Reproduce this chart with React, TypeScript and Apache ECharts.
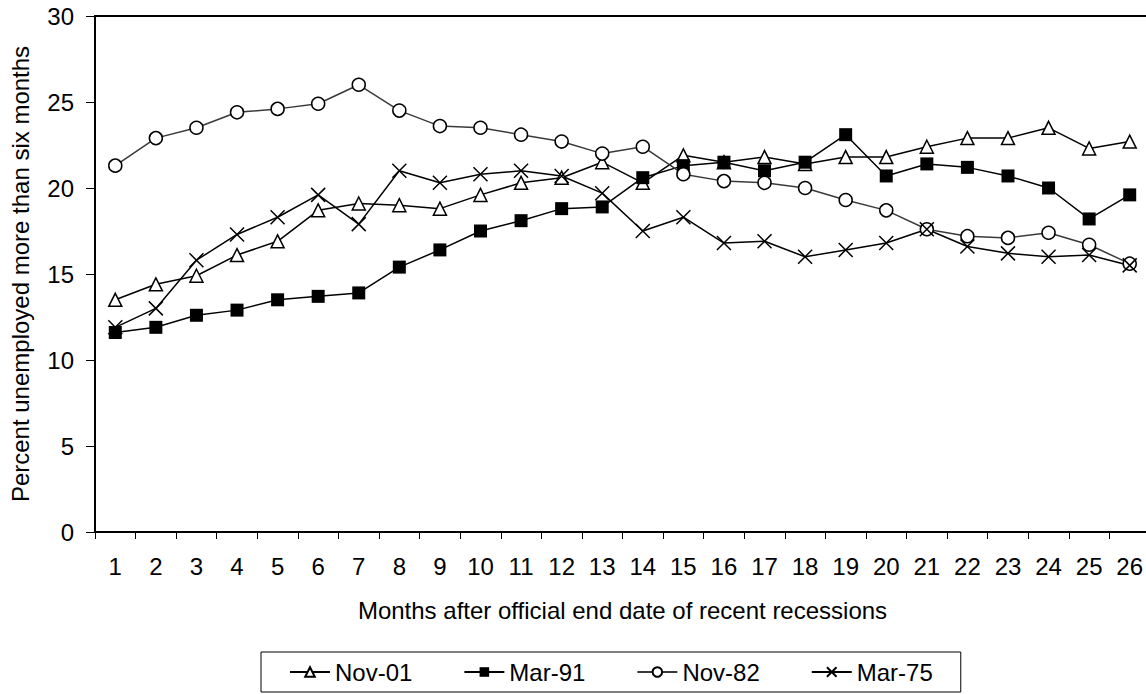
import React, { useEffect, useRef } from "react";
import * as echarts from "echarts";

const months = Array.from({ length: 26 }, (_, i) => String(i + 1));
const yTicks = [0, 5, 10, 15, 20, 25, 30];

const nov01 = [13.5, 14.4, 14.9, 16.1, 16.9, 18.7, 19.1, 19.0, 18.8, 19.6, 20.3, 20.6, 21.5, 20.3, 21.9, 21.5, 21.8, 21.4, 21.8, 21.8, 22.4, 22.9, 22.9, 23.5, 22.3, 22.7];
const mar91 = [11.6, 11.9, 12.6, 12.9, 13.5, 13.7, 13.9, 15.4, 16.4, 17.5, 18.1, 18.8, 18.9, 20.6, 21.3, 21.5, 21.0, 21.5, 23.1, 20.7, 21.4, 21.2, 20.7, 20.0, 18.2, 19.6];
const nov82 = [21.3, 22.9, 23.5, 24.4, 24.6, 24.9, 26.0, 24.5, 23.6, 23.5, 23.1, 22.7, 22.0, 22.4, 20.8, 20.4, 20.3, 20.0, 19.3, 18.7, 17.6, 17.2, 17.1, 17.4, 16.7, 15.6];
const mar75 = [11.9, 13.0, 15.8, 17.3, 18.3, 19.6, 17.9, 21.0, 20.3, 20.8, 21.0, 20.7, 19.7, 17.5, 18.3, 16.8, 16.9, 16.0, 16.4, 16.8, 17.6, 16.6, 16.2, 16.0, 16.1, 15.5];

const seriesNames = ["Nov-01", "Mar-91", "Nov-82", "Mar-75"];

const FONT = "'Liberation Sans', Arial, sans-serif";

export default function App() {
  const ref = useRef<HTMLDivElement>(null);
  useEffect(() => {
    document.body.style.margin = "0";
    document.body.style.overflow = "hidden";
    const chart = echarts.init(ref.current!, null, { renderer: "svg" });
    const common = {
      type: "line",
      symbolSize: 13,
      lineStyle: { color: "#000", width: 1.5 },
      z: 3,
    };
    chart.setOption({
      animation: false,
      backgroundColor: "#fff",
      textStyle: { fontFamily: FONT, color: "#000" },
      grid: {
        left: 92,
        top: 16,
        width: 1058,
        height: 516,
        show: false,
        containLabel: false,
      },
      legend: {
        left: 261,
        top: 652,
        itemWidth: 40,
        itemHeight: 12,
        itemGap: 51,
        padding: [8, 28, 8, 28],
        borderColor: "#000",
        borderWidth: 1,
        textStyle: { fontSize: 24, fontFamily: FONT, color: "#000" },
        data: seriesNames,
      },
      xAxis: [
        {
          type: "category",
          data: months,
          boundaryGap: true,
          name: "Months after official end date of recent recessions",
          nameLocation: "middle",
          nameGap: 66,
          nameTextStyle: { fontSize: 24, fontFamily: FONT, color: "#000" },
          axisLine: { lineStyle: { color: "#000", width: 2 } },
          axisTick: { show: true, length: 7, interval: 0, lineStyle: { color: "#000", width: 1 } },
          axisLabel: { interval: 0, margin: 22, fontSize: 24, fontFamily: FONT, color: "#000" },
          splitLine: { show: false },
        },
        {
          type: "category",
          data: months,
          position: "top",
          boundaryGap: true,
          axisLine: { show: true, lineStyle: { color: "#000", width: 2 } },
          axisTick: { show: false },
          axisLabel: { show: false },
          splitLine: { show: false },
        },
      ],
      yAxis: {
        type: "value",
        min: yTicks[0],
        max: yTicks[yTicks.length - 1],
        interval: 5,
        name: "Percent unemployed more than six months",
        nameLocation: "middle",
        nameGap: 63,
        nameTextStyle: { fontSize: 24, fontFamily: FONT, color: "#000" },
        axisLine: { show: true, lineStyle: { color: "#000", width: 2 } },
        axisTick: { show: true, length: 9, lineStyle: { color: "#000", width: 1 } },
        axisLabel: { margin: 21, fontSize: 24, fontFamily: FONT, color: "#000" },
        splitLine: { show: false },
      },
      series: [
        {
          ...common,
          name: seriesNames[0],
          data: nov01,
          symbol: "triangle",
          symbolSize: 13,
          itemStyle: { color: "#fff", borderColor: "#000", borderWidth: 1.5 },
        },
        {
          ...common,
          name: seriesNames[1],
          data: mar91,
          symbol: "rect",
          symbolSize: 13,
          itemStyle: { color: "#000", borderColor: "#000", borderWidth: 0 },
        },
        {
          ...common,
          name: seriesNames[2],
          data: nov82,
          symbol: "circle",
          symbolSize: 13,
          lineStyle: { color: "#3a3a3a", width: 1.5 },
          itemStyle: { color: "#fff", borderColor: "#000", borderWidth: 1.5 },
        },
        {
          ...common,
          name: seriesNames[3],
          data: mar75,
          symbol: "path://M0,0L10,10M10,0L0,10",
          symbolSize: 14,
          itemStyle: { color: "#000", borderColor: "#000", borderWidth: 1.5 },
        },
      ],
    });
    return () => chart.dispose();
  }, []);
  return (
    <div
      ref={ref}
      style={{ position: "absolute", left: 0, top: 0, width: 1156, height: 694, background: "#fff" }}
    />
  );
}
